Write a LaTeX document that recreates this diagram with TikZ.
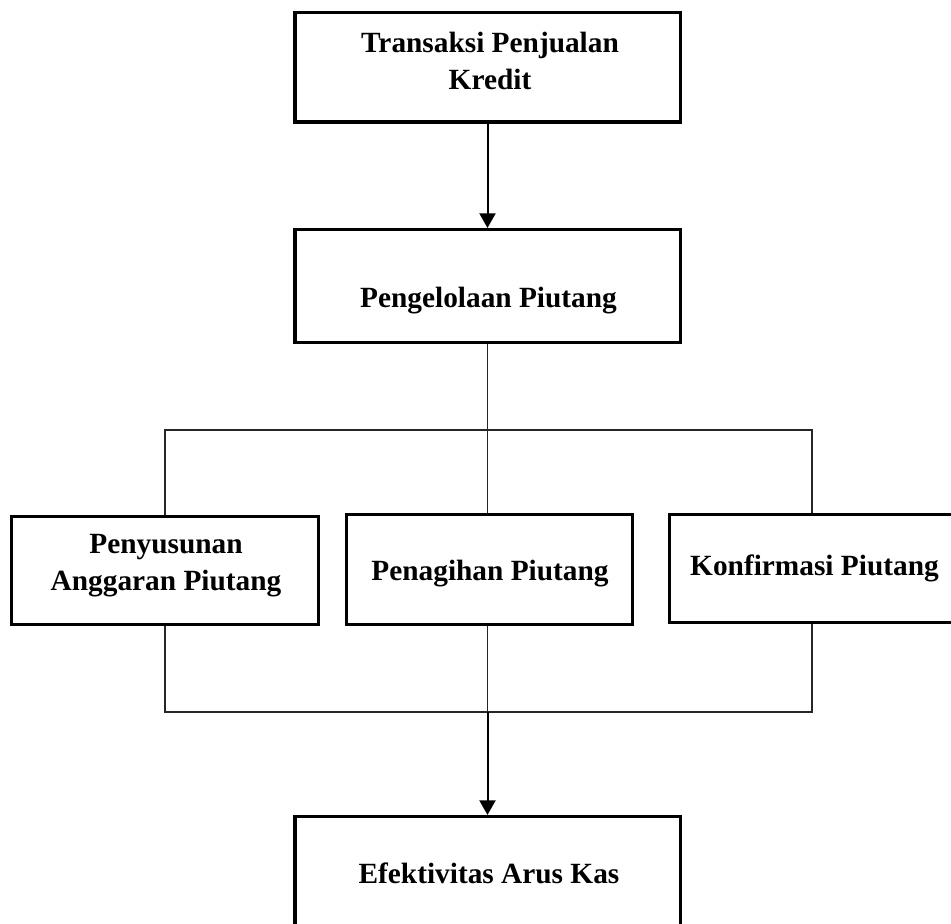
\documentclass[tikz,border=0pt]{standalone}
\usepackage{fontspec}
\setmainfont{Liberation Serif}
\usetikzlibrary{arrows.meta, positioning}

\begin{document}
\begin{tikzpicture}[x=0.75pt, y=-0.75pt,
    box/.style={draw, line width=2.5pt, inner sep=0pt},
    lbl/.style={font=\bfseries\fontsize{22}{27.75}\selectfont, align=center, inner sep=0pt},
    link/.style={line width=0.8pt, black!85},
    flow/.style={-{Triangle[length=11pt, width=12pt]}, line width=1.5pt}]
    % Fix the page size
    \useasboundingbox (0,0) rectangle (951,924);
    \clip (0,0) rectangle (951,924);

    % Draw the boxes
    \node[box, minimum width=289pt, minimum height=82pt] (trans) at (487.5,67.5) {};
    \node[box, minimum width=289pt, minimum height=84.5pt] (peng) at (487.5,286) {};
    \node[box, minimum width=230pt, minimum height=80.75pt] (penyus) at (165,570.5) {};
    \node[box, minimum width=214.25pt, minimum height=82.25pt] (penag) at (489.5,569.5) {};
    \node[box, minimum width=213.5pt, minimum height=80.75pt] (konf) at (812,568.5) {};
    \node[box, minimum width=289pt, minimum height=87.5pt] (efek) at (487.5,875) {};

    % Put the texts in the boxes
    \node[lbl] (transtxt) at (490,61) {Transaksi Penjualan\\Kredit};
    \node[lbl, anchor=base] (pengtxt) at (488.5,307) {Pengelolaan Piutang};
    \node[lbl] (penyustxt) at (166,566) {Penyusunan\\Anggaran Piutang};
    \node[lbl, anchor=base] (penagtxt) at (490,580) {Penagihan Piutang};
    \node[lbl, anchor=base] (konftxt) at (814.5,575) {Konfirmasi Piutang};
    \node[lbl, anchor=base] (efektxt) at (489,883) {Efektivitas Arus Kas};

    % Connect the boxes
    \coordinate (split) at (487.5,430);
    \coordinate (join) at (487.5,712);
    \draw[flow] (trans) -- (peng);
    \draw[link] (peng.south) -- (split);
    \draw[link] (penyus.north) |- (split) -| (konf.north);
    \draw[link] (split) -- (split |- penag.north);
    \draw[link] (penyus.south) |- (join) -| (konf.south);
    \draw[link] (join |- penag.south) -- (join);
    \draw[flow] (join) -- (efek.north);
\end{tikzpicture}
\end{document}
